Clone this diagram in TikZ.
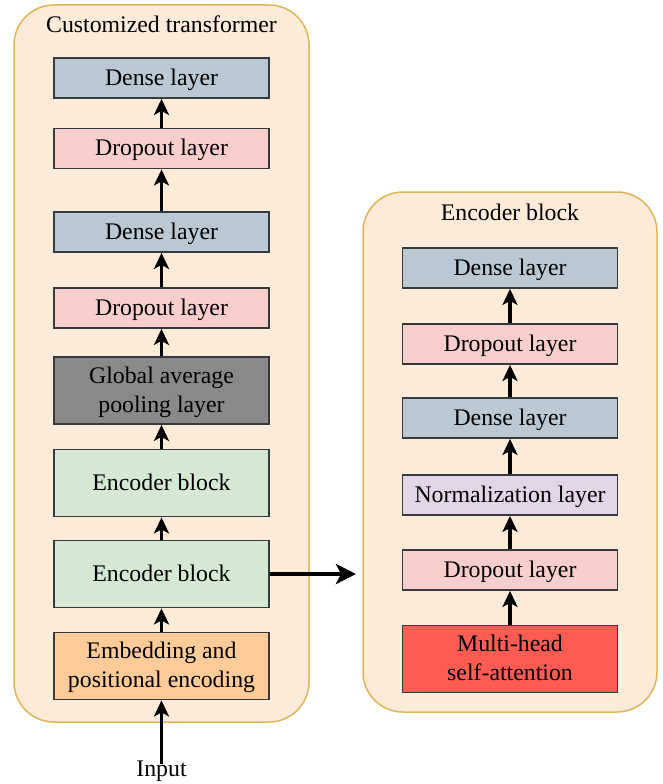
\documentclass[tikz,border=0pt]{standalone}
\usepackage{fontspec}
\setmainfont{Liberation Serif}
\usetikzlibrary{arrows.meta}
\definecolor{panelfill}{HTML}{FDEBDA}
\definecolor{panelline}{HTML}{DDB65A}
\definecolor{edgec}{HTML}{36393D}
\definecolor{densec}{HTML}{BAC8D3}
\definecolor{dropc}{HTML}{F8CECC}
\definecolor{poolc}{HTML}{898989}
\definecolor{encc}{HTML}{D5E8D4}
\definecolor{embc}{HTML}{FFCC99}
\definecolor{normc}{HTML}{E1D5E7}
\definecolor{attc}{HTML}{FE5B53}
\begin{document}
\begin{tikzpicture}[x=1pt,y=-1pt,
  txt/.style={font=\fontsize{23.8}{29}\selectfont},
  layer/.style={txt,draw=edgec,line width=1.8pt,minimum width=215pt,minimum height=40pt,inner sep=0pt,align=center,text height=18pt,text depth=4pt},
  tall/.style={layer,minimum height=67pt},
  twoline/.style={tall,text height=47pt},
  panel/.style={draw=panelline,fill=panelfill,line width=1.5pt,rounded corners=40pt},
  arr/.style={-{Stealth[length=16pt,width=15pt,inset=4pt]},line width=3.2pt},
  bigarr/.style={-{Stealth[length=20pt,width=20pt,inset=5pt]},line width=4pt}]
\useasboundingbox (0,0) rectangle (663,784);
\draw[panel] (14,5) rectangle (309,722);
\draw[panel] (363,192) rectangle (657,712);
\node[txt] (tleft) at (161.5,24) {Customized transformer};
\node[txt] (tright) at (510,212) {Encoder block};
\node[layer,fill=densec] (d2) at (161.5,78) {Dense layer};
\node[layer,fill=dropc] (p2) at (161.5,148.5) {Dropout layer};
\node[layer,fill=densec] (d1) at (161.5,232) {Dense layer};
\node[layer,fill=dropc] (p1) at (161.5,308) {Dropout layer};
\node[twoline,fill=poolc] (pool) at (161.5,390.5) {Global average\\pooling layer};
\node[tall,fill=encc] (enc2) at (161.5,483) {Encoder block};
\node[tall,fill=encc] (enc1) at (161.5,574) {Encoder block};
\node[twoline,fill=embc] (emb) at (161.5,666) {Embedding and\\positional encoding};
\node[txt,inner sep=0pt] (inp) at (161.5,771) {Input};
\node[layer,fill=densec] (ed2) at (510,268) {Dense layer};
\node[layer,fill=dropc] (ep) at (510,344) {Dropout layer};
\node[layer,fill=densec] (ed1) at (510,418) {Dense layer};
\node[layer,fill=normc] (en) at (510,495) {Normalization layer};
\node[layer,fill=dropc] (ep0) at (510,570) {Dropout layer};
\node[twoline,fill=attc] (att) at (510,659) {Multi-head\\self-attention};
\coordinate (rin) at (356,574);
\draw[arr] ([yshift=-4pt]inp.north) -- (emb.south);
\draw[arr] (emb) -- (enc1);
\draw[arr] (enc1) -- (enc2);
\draw[arr] (enc2) -- (pool);
\draw[arr] (pool) -- (p1);
\draw[arr] (p1) -- (d1);
\draw[arr] (d1) -- (p2);
\draw[arr] (p2) -- (d2);
\draw[bigarr] (enc1.east) -- (rin);
\draw[arr] (att) -- (ep0);
\draw[arr] (ep0) -- (en);
\draw[arr] (en) -- (ed1);
\draw[arr] (ed1) -- (ep);
\draw[arr] (ep) -- (ed2);
\end{tikzpicture}
\end{document}
